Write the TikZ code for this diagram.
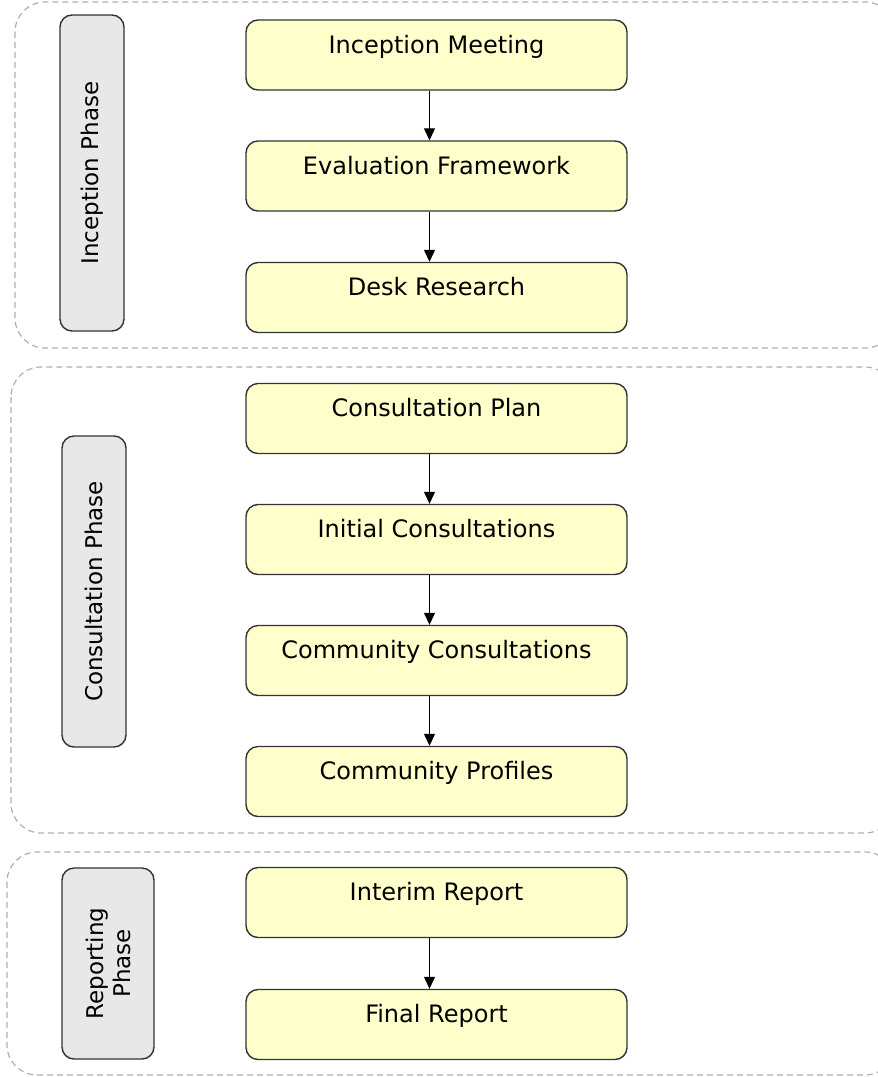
\documentclass[tikz,border=0pt]{standalone}
\usepackage{fontspec}
\setmainfont{DejaVu Sans}
\usepackage{tikz}
\usetikzlibrary{arrows.meta}
\definecolor{stepfill}{RGB}{255,255,204}
\definecolor{phasefill}{RGB}{232,232,232}
\definecolor{framegray}{RGB}{175,175,175}
\tikzstyle{stepbox}=[draw=black!80, fill=stepfill, line width=1.4pt, rounded corners=12pt, minimum width=381pt, inner sep=0pt, text height=33pt, text depth=37pt, font=\fontsize{24}{28}\selectfont]
\tikzstyle{phasebox}=[draw=black!80, fill=phasefill, line width=1.4pt, rounded corners=12pt, rotate=90, inner sep=0pt, align=center, font=\fontsize{23}{27}\selectfont]
\tikzstyle{group}=[draw=framegray, line width=1.2pt, dash pattern=on 6pt off 4pt, rounded corners=30pt]
\tikzstyle{dedge}=[line width=1.2pt, -{Triangle[length=12pt,width=11pt]}]

\begin{document}
\begin{tikzpicture}[x=1pt,y=-1pt]
					\useasboundingbox (0,0) rectangle (878,1077);
					\clip (0,0) rectangle (878,1077);
					
					% phase frames
					\draw[group] (15,2) rectangle (895,348);
					\draw[group] (11,367) rectangle (895,833);
					\draw[group] (7,852) rectangle (895,1075);
					
					\node[phasebox,minimum width=316pt,minimum height=64pt] (ph1) at (92,173) {Inception Phase};
					\node[phasebox,minimum width=311pt,minimum height=64pt] (ph2) at (94,591.5) {Consultation Phase};
					\node[phasebox,minimum width=191pt,minimum height=92pt] (ph3) at (108,963.5) {Reporting\\Phase};
					
					\node[stepbox] (meet) at (436.5,55) {Inception Meeting};
					\node[stepbox] (frame) at (436.5,176) {Evaluation Framework};
					\node[stepbox] (desk) at (436.5,297.5) {Desk Research};
					\node[stepbox] (plan) at (436.5,418.5) {Consultation Plan};
					\node[stepbox] (init) at (436.5,539.5) {Initial Consultations};
					\node[stepbox] (comm) at (436.5,660.5) {Community Consultations};
					\node[stepbox] (prof) at (436.5,781.5) {Community Profiles};
					\node[stepbox] (interim) at (436.5,902.5) {Interim Report};
					\node[stepbox] (final) at (436.5,1024.5) {Final Report};
					
					\draw[dedge] ([xshift=-7pt]meet.south) -- ([xshift=-7pt]frame.north);
					\draw[dedge] ([xshift=-7pt]frame.south) -- ([xshift=-7pt]desk.north);
					\draw[dedge] ([xshift=-7pt]plan.south) -- ([xshift=-7pt]init.north);
					\draw[dedge] ([xshift=-7pt]init.south) -- ([xshift=-7pt]comm.north);
					\draw[dedge] ([xshift=-7pt]comm.south) -- ([xshift=-7pt]prof.north);
					\draw[dedge] ([xshift=-7pt]interim.south) -- ([xshift=-7pt]final.north);
				\end{tikzpicture}
\end{document}
